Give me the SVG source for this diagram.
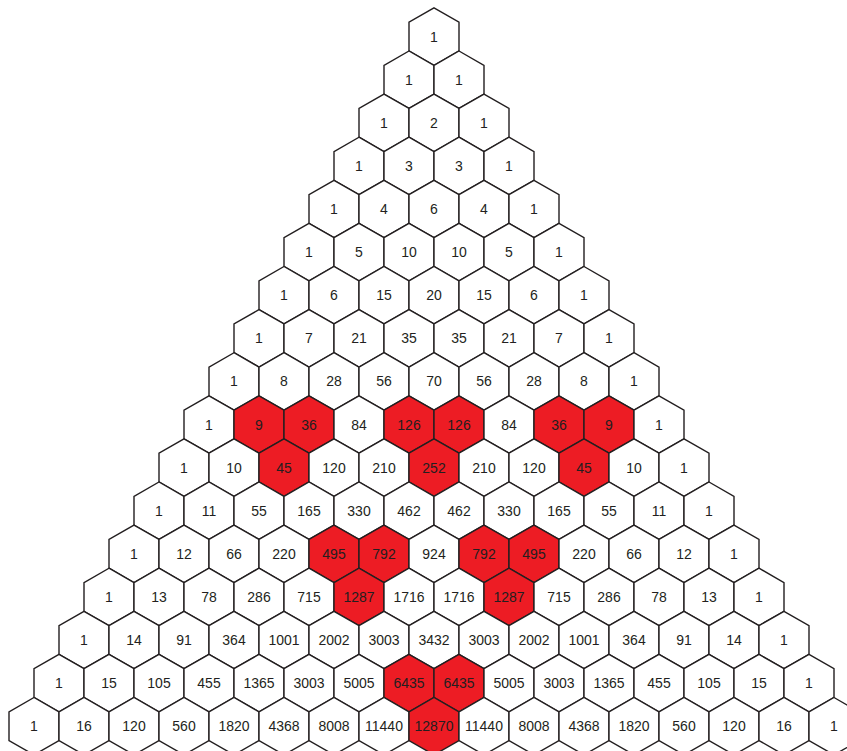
<svg xmlns="http://www.w3.org/2000/svg" xmlns:xlink="http://www.w3.org/1999/xlink" width="847" height="751" viewBox="0 0 847 751">
<style>
.h{fill:#ffffff;stroke:#231f20;stroke-width:1.4;stroke-linejoin:miter}
.r{fill:#ed1c24}
text{font-family:"Liberation Sans",Arial,sans-serif;font-size:14px;fill:#231f20;text-anchor:middle}
</style>
<defs>
<path id="hx" d="M0,-28.7L25,-14.35L25,14.35L0,28.7L-25,14.35L-25,-14.35Z"/>
</defs>
<rect width="847" height="751" fill="#ffffff"/>
<g id="nodes">
<g id="n0_0" transform="translate(434,36.6)"><use href="#hx" class="h"/><text y="5">1</text></g>

<g id="n1_0" transform="translate(409,79.7)"><use href="#hx" class="h"/><text y="5">1</text></g>
<g id="n1_1" transform="translate(459,79.7)"><use href="#hx" class="h"/><text y="5">1</text></g>

<g id="n2_0" transform="translate(384,122.8)"><use href="#hx" class="h"/><text y="5">1</text></g>
<g id="n2_1" transform="translate(434,122.8)"><use href="#hx" class="h"/><text y="5">2</text></g>
<g id="n2_2" transform="translate(484,122.8)"><use href="#hx" class="h"/><text y="5">1</text></g>

<g id="n3_0" transform="translate(359,165.9)"><use href="#hx" class="h"/><text y="5">1</text></g>
<g id="n3_1" transform="translate(409,165.9)"><use href="#hx" class="h"/><text y="5">3</text></g>
<g id="n3_2" transform="translate(459,165.9)"><use href="#hx" class="h"/><text y="5">3</text></g>
<g id="n3_3" transform="translate(509,165.9)"><use href="#hx" class="h"/><text y="5">1</text></g>

<g id="n4_0" transform="translate(334,209)"><use href="#hx" class="h"/><text y="5">1</text></g>
<g id="n4_1" transform="translate(384,209)"><use href="#hx" class="h"/><text y="5">4</text></g>
<g id="n4_2" transform="translate(434,209)"><use href="#hx" class="h"/><text y="5">6</text></g>
<g id="n4_3" transform="translate(484,209)"><use href="#hx" class="h"/><text y="5">4</text></g>
<g id="n4_4" transform="translate(534,209)"><use href="#hx" class="h"/><text y="5">1</text></g>

<g id="n5_0" transform="translate(309,252.1)"><use href="#hx" class="h"/><text y="5">1</text></g>
<g id="n5_1" transform="translate(359,252.1)"><use href="#hx" class="h"/><text y="5">5</text></g>
<g id="n5_2" transform="translate(409,252.1)"><use href="#hx" class="h"/><text y="5">10</text></g>
<g id="n5_3" transform="translate(459,252.1)"><use href="#hx" class="h"/><text y="5">10</text></g>
<g id="n5_4" transform="translate(509,252.1)"><use href="#hx" class="h"/><text y="5">5</text></g>
<g id="n5_5" transform="translate(559,252.1)"><use href="#hx" class="h"/><text y="5">1</text></g>

<g id="n6_0" transform="translate(284,295.2)"><use href="#hx" class="h"/><text y="5">1</text></g>
<g id="n6_1" transform="translate(334,295.2)"><use href="#hx" class="h"/><text y="5">6</text></g>
<g id="n6_2" transform="translate(384,295.2)"><use href="#hx" class="h"/><text y="5">15</text></g>
<g id="n6_3" transform="translate(434,295.2)"><use href="#hx" class="h"/><text y="5">20</text></g>
<g id="n6_4" transform="translate(484,295.2)"><use href="#hx" class="h"/><text y="5">15</text></g>
<g id="n6_5" transform="translate(534,295.2)"><use href="#hx" class="h"/><text y="5">6</text></g>
<g id="n6_6" transform="translate(584,295.2)"><use href="#hx" class="h"/><text y="5">1</text></g>

<g id="n7_0" transform="translate(259,338.3)"><use href="#hx" class="h"/><text y="5">1</text></g>
<g id="n7_1" transform="translate(309,338.3)"><use href="#hx" class="h"/><text y="5">7</text></g>
<g id="n7_2" transform="translate(359,338.3)"><use href="#hx" class="h"/><text y="5">21</text></g>
<g id="n7_3" transform="translate(409,338.3)"><use href="#hx" class="h"/><text y="5">35</text></g>
<g id="n7_4" transform="translate(459,338.3)"><use href="#hx" class="h"/><text y="5">35</text></g>
<g id="n7_5" transform="translate(509,338.3)"><use href="#hx" class="h"/><text y="5">21</text></g>
<g id="n7_6" transform="translate(559,338.3)"><use href="#hx" class="h"/><text y="5">7</text></g>
<g id="n7_7" transform="translate(609,338.3)"><use href="#hx" class="h"/><text y="5">1</text></g>

<g id="n8_0" transform="translate(234,381.4)"><use href="#hx" class="h"/><text y="5">1</text></g>
<g id="n8_1" transform="translate(284,381.4)"><use href="#hx" class="h"/><text y="5">8</text></g>
<g id="n8_2" transform="translate(334,381.4)"><use href="#hx" class="h"/><text y="5">28</text></g>
<g id="n8_3" transform="translate(384,381.4)"><use href="#hx" class="h"/><text y="5">56</text></g>
<g id="n8_4" transform="translate(434,381.4)"><use href="#hx" class="h"/><text y="5">70</text></g>
<g id="n8_5" transform="translate(484,381.4)"><use href="#hx" class="h"/><text y="5">56</text></g>
<g id="n8_6" transform="translate(534,381.4)"><use href="#hx" class="h"/><text y="5">28</text></g>
<g id="n8_7" transform="translate(584,381.4)"><use href="#hx" class="h"/><text y="5">8</text></g>
<g id="n8_8" transform="translate(634,381.4)"><use href="#hx" class="h"/><text y="5">1</text></g>

<g id="n9_0" transform="translate(209,424.5)"><use href="#hx" class="h"/><text y="5">1</text></g>
<g id="n9_1" transform="translate(259,424.5)"><use href="#hx" class="h r"/><text y="5">9</text></g>
<g id="n9_2" transform="translate(309,424.5)"><use href="#hx" class="h r"/><text y="5">36</text></g>
<g id="n9_3" transform="translate(359,424.5)"><use href="#hx" class="h"/><text y="5">84</text></g>
<g id="n9_4" transform="translate(409,424.5)"><use href="#hx" class="h r"/><text y="5">126</text></g>
<g id="n9_5" transform="translate(459,424.5)"><use href="#hx" class="h r"/><text y="5">126</text></g>
<g id="n9_6" transform="translate(509,424.5)"><use href="#hx" class="h"/><text y="5">84</text></g>
<g id="n9_7" transform="translate(559,424.5)"><use href="#hx" class="h r"/><text y="5">36</text></g>
<g id="n9_8" transform="translate(609,424.5)"><use href="#hx" class="h r"/><text y="5">9</text></g>
<g id="n9_9" transform="translate(659,424.5)"><use href="#hx" class="h"/><text y="5">1</text></g>

<g id="n10_0" transform="translate(184,467.6)"><use href="#hx" class="h"/><text y="5">1</text></g>
<g id="n10_1" transform="translate(234,467.6)"><use href="#hx" class="h"/><text y="5">10</text></g>
<g id="n10_2" transform="translate(284,467.6)"><use href="#hx" class="h r"/><text y="5">45</text></g>
<g id="n10_3" transform="translate(334,467.6)"><use href="#hx" class="h"/><text y="5">120</text></g>
<g id="n10_4" transform="translate(384,467.6)"><use href="#hx" class="h"/><text y="5">210</text></g>
<g id="n10_5" transform="translate(434,467.6)"><use href="#hx" class="h r"/><text y="5">252</text></g>
<g id="n10_6" transform="translate(484,467.6)"><use href="#hx" class="h"/><text y="5">210</text></g>
<g id="n10_7" transform="translate(534,467.6)"><use href="#hx" class="h"/><text y="5">120</text></g>
<g id="n10_8" transform="translate(584,467.6)"><use href="#hx" class="h r"/><text y="5">45</text></g>
<g id="n10_9" transform="translate(634,467.6)"><use href="#hx" class="h"/><text y="5">10</text></g>
<g id="n10_10" transform="translate(684,467.6)"><use href="#hx" class="h"/><text y="5">1</text></g>

<g id="n11_0" transform="translate(159,510.7)"><use href="#hx" class="h"/><text y="5">1</text></g>
<g id="n11_1" transform="translate(209,510.7)"><use href="#hx" class="h"/><text y="5">11</text></g>
<g id="n11_2" transform="translate(259,510.7)"><use href="#hx" class="h"/><text y="5">55</text></g>
<g id="n11_3" transform="translate(309,510.7)"><use href="#hx" class="h"/><text y="5">165</text></g>
<g id="n11_4" transform="translate(359,510.7)"><use href="#hx" class="h"/><text y="5">330</text></g>
<g id="n11_5" transform="translate(409,510.7)"><use href="#hx" class="h"/><text y="5">462</text></g>
<g id="n11_6" transform="translate(459,510.7)"><use href="#hx" class="h"/><text y="5">462</text></g>
<g id="n11_7" transform="translate(509,510.7)"><use href="#hx" class="h"/><text y="5">330</text></g>
<g id="n11_8" transform="translate(559,510.7)"><use href="#hx" class="h"/><text y="5">165</text></g>
<g id="n11_9" transform="translate(609,510.7)"><use href="#hx" class="h"/><text y="5">55</text></g>
<g id="n11_10" transform="translate(659,510.7)"><use href="#hx" class="h"/><text y="5">11</text></g>
<g id="n11_11" transform="translate(709,510.7)"><use href="#hx" class="h"/><text y="5">1</text></g>

<g id="n12_0" transform="translate(134,553.8)"><use href="#hx" class="h"/><text y="5">1</text></g>
<g id="n12_1" transform="translate(184,553.8)"><use href="#hx" class="h"/><text y="5">12</text></g>
<g id="n12_2" transform="translate(234,553.8)"><use href="#hx" class="h"/><text y="5">66</text></g>
<g id="n12_3" transform="translate(284,553.8)"><use href="#hx" class="h"/><text y="5">220</text></g>
<g id="n12_4" transform="translate(334,553.8)"><use href="#hx" class="h r"/><text y="5">495</text></g>
<g id="n12_5" transform="translate(384,553.8)"><use href="#hx" class="h r"/><text y="5">792</text></g>
<g id="n12_6" transform="translate(434,553.8)"><use href="#hx" class="h"/><text y="5">924</text></g>
<g id="n12_7" transform="translate(484,553.8)"><use href="#hx" class="h r"/><text y="5">792</text></g>
<g id="n12_8" transform="translate(534,553.8)"><use href="#hx" class="h r"/><text y="5">495</text></g>
<g id="n12_9" transform="translate(584,553.8)"><use href="#hx" class="h"/><text y="5">220</text></g>
<g id="n12_10" transform="translate(634,553.8)"><use href="#hx" class="h"/><text y="5">66</text></g>
<g id="n12_11" transform="translate(684,553.8)"><use href="#hx" class="h"/><text y="5">12</text></g>
<g id="n12_12" transform="translate(734,553.8)"><use href="#hx" class="h"/><text y="5">1</text></g>

<g id="n13_0" transform="translate(109,596.9)"><use href="#hx" class="h"/><text y="5">1</text></g>
<g id="n13_1" transform="translate(159,596.9)"><use href="#hx" class="h"/><text y="5">13</text></g>
<g id="n13_2" transform="translate(209,596.9)"><use href="#hx" class="h"/><text y="5">78</text></g>
<g id="n13_3" transform="translate(259,596.9)"><use href="#hx" class="h"/><text y="5">286</text></g>
<g id="n13_4" transform="translate(309,596.9)"><use href="#hx" class="h"/><text y="5">715</text></g>
<g id="n13_5" transform="translate(359,596.9)"><use href="#hx" class="h r"/><text y="5">1287</text></g>
<g id="n13_6" transform="translate(409,596.9)"><use href="#hx" class="h"/><text y="5">1716</text></g>
<g id="n13_7" transform="translate(459,596.9)"><use href="#hx" class="h"/><text y="5">1716</text></g>
<g id="n13_8" transform="translate(509,596.9)"><use href="#hx" class="h r"/><text y="5">1287</text></g>
<g id="n13_9" transform="translate(559,596.9)"><use href="#hx" class="h"/><text y="5">715</text></g>
<g id="n13_10" transform="translate(609,596.9)"><use href="#hx" class="h"/><text y="5">286</text></g>
<g id="n13_11" transform="translate(659,596.9)"><use href="#hx" class="h"/><text y="5">78</text></g>
<g id="n13_12" transform="translate(709,596.9)"><use href="#hx" class="h"/><text y="5">13</text></g>
<g id="n13_13" transform="translate(759,596.9)"><use href="#hx" class="h"/><text y="5">1</text></g>

<g id="n14_0" transform="translate(84,640)"><use href="#hx" class="h"/><text y="5">1</text></g>
<g id="n14_1" transform="translate(134,640)"><use href="#hx" class="h"/><text y="5">14</text></g>
<g id="n14_2" transform="translate(184,640)"><use href="#hx" class="h"/><text y="5">91</text></g>
<g id="n14_3" transform="translate(234,640)"><use href="#hx" class="h"/><text y="5">364</text></g>
<g id="n14_4" transform="translate(284,640)"><use href="#hx" class="h"/><text y="5">1001</text></g>
<g id="n14_5" transform="translate(334,640)"><use href="#hx" class="h"/><text y="5">2002</text></g>
<g id="n14_6" transform="translate(384,640)"><use href="#hx" class="h"/><text y="5">3003</text></g>
<g id="n14_7" transform="translate(434,640)"><use href="#hx" class="h"/><text y="5">3432</text></g>
<g id="n14_8" transform="translate(484,640)"><use href="#hx" class="h"/><text y="5">3003</text></g>
<g id="n14_9" transform="translate(534,640)"><use href="#hx" class="h"/><text y="5">2002</text></g>
<g id="n14_10" transform="translate(584,640)"><use href="#hx" class="h"/><text y="5">1001</text></g>
<g id="n14_11" transform="translate(634,640)"><use href="#hx" class="h"/><text y="5">364</text></g>
<g id="n14_12" transform="translate(684,640)"><use href="#hx" class="h"/><text y="5">91</text></g>
<g id="n14_13" transform="translate(734,640)"><use href="#hx" class="h"/><text y="5">14</text></g>
<g id="n14_14" transform="translate(784,640)"><use href="#hx" class="h"/><text y="5">1</text></g>

<g id="n15_0" transform="translate(59,683.1)"><use href="#hx" class="h"/><text y="5">1</text></g>
<g id="n15_1" transform="translate(109,683.1)"><use href="#hx" class="h"/><text y="5">15</text></g>
<g id="n15_2" transform="translate(159,683.1)"><use href="#hx" class="h"/><text y="5">105</text></g>
<g id="n15_3" transform="translate(209,683.1)"><use href="#hx" class="h"/><text y="5">455</text></g>
<g id="n15_4" transform="translate(259,683.1)"><use href="#hx" class="h"/><text y="5">1365</text></g>
<g id="n15_5" transform="translate(309,683.1)"><use href="#hx" class="h"/><text y="5">3003</text></g>
<g id="n15_6" transform="translate(359,683.1)"><use href="#hx" class="h"/><text y="5">5005</text></g>
<g id="n15_7" transform="translate(409,683.1)"><use href="#hx" class="h r"/><text y="5">6435</text></g>
<g id="n15_8" transform="translate(459,683.1)"><use href="#hx" class="h r"/><text y="5">6435</text></g>
<g id="n15_9" transform="translate(509,683.1)"><use href="#hx" class="h"/><text y="5">5005</text></g>
<g id="n15_10" transform="translate(559,683.1)"><use href="#hx" class="h"/><text y="5">3003</text></g>
<g id="n15_11" transform="translate(609,683.1)"><use href="#hx" class="h"/><text y="5">1365</text></g>
<g id="n15_12" transform="translate(659,683.1)"><use href="#hx" class="h"/><text y="5">455</text></g>
<g id="n15_13" transform="translate(709,683.1)"><use href="#hx" class="h"/><text y="5">105</text></g>
<g id="n15_14" transform="translate(759,683.1)"><use href="#hx" class="h"/><text y="5">15</text></g>
<g id="n15_15" transform="translate(809,683.1)"><use href="#hx" class="h"/><text y="5">1</text></g>

<g id="n16_0" transform="translate(34,726.2)"><use href="#hx" class="h"/><text y="5">1</text></g>
<g id="n16_1" transform="translate(84,726.2)"><use href="#hx" class="h"/><text y="5">16</text></g>
<g id="n16_2" transform="translate(134,726.2)"><use href="#hx" class="h"/><text y="5">120</text></g>
<g id="n16_3" transform="translate(184,726.2)"><use href="#hx" class="h"/><text y="5">560</text></g>
<g id="n16_4" transform="translate(234,726.2)"><use href="#hx" class="h"/><text y="5">1820</text></g>
<g id="n16_5" transform="translate(284,726.2)"><use href="#hx" class="h"/><text y="5">4368</text></g>
<g id="n16_6" transform="translate(334,726.2)"><use href="#hx" class="h"/><text y="5">8008</text></g>
<g id="n16_7" transform="translate(384,726.2)"><use href="#hx" class="h"/><text y="5">11440</text></g>
<g id="n16_8" transform="translate(434,726.2)"><use href="#hx" class="h r"/><text y="5">12870</text></g>
<g id="n16_9" transform="translate(484,726.2)"><use href="#hx" class="h"/><text y="5">11440</text></g>
<g id="n16_10" transform="translate(534,726.2)"><use href="#hx" class="h"/><text y="5">8008</text></g>
<g id="n16_11" transform="translate(584,726.2)"><use href="#hx" class="h"/><text y="5">4368</text></g>
<g id="n16_12" transform="translate(634,726.2)"><use href="#hx" class="h"/><text y="5">1820</text></g>
<g id="n16_13" transform="translate(684,726.2)"><use href="#hx" class="h"/><text y="5">560</text></g>
<g id="n16_14" transform="translate(734,726.2)"><use href="#hx" class="h"/><text y="5">120</text></g>
<g id="n16_15" transform="translate(784,726.2)"><use href="#hx" class="h"/><text y="5">16</text></g>
<g id="n16_16" transform="translate(834,726.2)"><use href="#hx" class="h"/><text y="5">1</text></g>
</g>
</svg>
